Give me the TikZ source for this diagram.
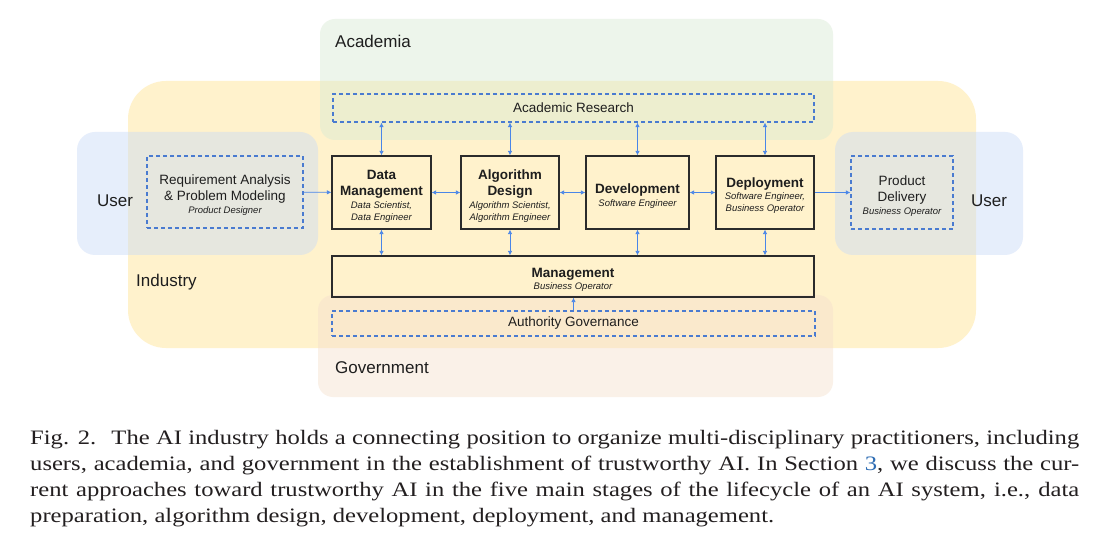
\documentclass[tikz,border=0pt]{standalone}
\usepackage{fontspec}
\setmainfont{Liberation Sans}
\newfontfamily\capfont[FakeStretch=1.2]{Liberation Serif}
\usepackage{xcolor}
\usetikzlibrary{arrows.meta,positioning}
\definecolor{indfill}{HTML}{FFF2CC}
\definecolor{acafill}{HTML}{D9EAD3}
\definecolor{userfill}{HTML}{C9DAF8}
\definecolor{govfill}{HTML}{F6E0CE}
\definecolor{boxline}{HTML}{2B2B2B}
\definecolor{dashblue}{HTML}{4A7BD0}
\definecolor{arrowblue}{HTML}{4A86E8}
\definecolor{ink}{HTML}{1E1E1E}
\definecolor{capink}{HTML}{231F20}
\definecolor{reflink}{HTML}{2E6DB4}
\newcommand\rolefont{\fontsize{9.5}{12}\selectfont\itshape\mdseries}
\newcommand\lift{\rule{0pt}{16pt}}
\tikzset{
  region/.style={fill opacity=0.45, draw=none},
  grouplab/.style={text=ink, font=\fontsize{17}{20}\selectfont, inner sep=0pt},
  stagebox/.style={draw=boxline, line width=1.2pt, align=center, text=ink, inner sep=0pt,
    minimum height=73pt, font=\fontsize{13.5}{16.5}\selectfont\bfseries},
  dashbox/.style={draw=dashblue, line width=1.1pt, dash pattern=on 4pt off 3pt, align=center,
    text=ink, inner sep=0pt, font=\fontsize{13.5}{16}\selectfont},
  link/.style={draw=arrowblue, line width=0.8pt, -{Latex[length=4.5pt,width=4.5pt]}},
  twoway/.style={link, {Latex[length=4.5pt,width=4.5pt]}-{Latex[length=4.5pt,width=4.5pt]}},
}
\begin{document}
\begin{tikzpicture}[x=1pt,y=-1pt]
\useasboundingbox[fill=white] (0,0) rectangle (1111,545);

\fill[indfill, rounded corners=38pt] (128,81) rectangle (976,348);
\fill[region, acafill, rounded corners=15pt] (320,19) rectangle (833,140);
\fill[region, userfill, rounded corners=18pt] (77,132) rectangle (318,255);
\fill[region, userfill, rounded corners=18pt] (835,132) rectangle (1023,255);
\fill[region, govfill, rounded corners=15pt] (318,295) rectangle (833,397);

\node[grouplab, anchor=west] (academia) at (335,41) {Academia};
\node[grouplab, anchor=west] (userl) at (97,201) {User};
\node[grouplab] (userr) at (989,201) {User};
\node[grouplab, anchor=west] (industry) at (136,282) {Industry};
\node[grouplab, anchor=west] (government) at (335,368) {Government};

\node[dashbox, minimum width=481pt, minimum height=28pt] (ar) at (573.5,108) {Academic Research};
\node[dashbox, minimum width=483pt, minimum height=25pt] (ag) at (573.5,323.5) {Authority Governance};
\node[dashbox, minimum width=156pt, minimum height=72pt] (req) at (225,192)
  {\lift Requirement Analysis\\\& Problem Modeling\\[-3pt]\rolefont Product Designer};
\node[dashbox, minimum width=102pt, minimum height=73pt] (pd) at (902,192.5)
  {\lift Product\\Delivery\\[-3pt]\rolefont Business Operator};

\node[stagebox, minimum width=99pt] (dm) at (381.5,192.5)
  {\lift Data\\Management\\[-4pt]\rolefont Data Scientist,\\[-4.5pt]\rolefont Data Engineer};
\node[stagebox, minimum width=98pt] (ad) at (510,192.5)
  {\lift Algorithm\\Design\\[-4pt]\rolefont Algorithm Scientist,\\[-4.5pt]\rolefont Algorithm Engineer};
\node[stagebox, minimum width=103pt] (dev) at (637.5,192.5) {\lift Development\\[-3.5pt]\rolefont Software Engineer};
\node[stagebox, minimum width=98pt] (dep) at (765,192.5)
  {\lift Deployment\\[-4pt]\rolefont Software Engineer,\\[-4.5pt]\rolefont Business Operator};
\node[stagebox, minimum width=482pt, minimum height=41pt] (mgmt) at (573,276.5)
  {\lift Management\\[-5pt]\rolefont Business Operator};

\draw[link] (req) -- (dm);
\draw[twoway] (dm) -- (ad);
\draw[twoway] (ad) -- (dev);
\draw[twoway] (dev) -- (dep);
\draw[link] (dep) -- (pd);
\foreach \s in {dm,ad,dev,dep}{
  \draw[twoway] (ar.south -| \s) -- (\s);
  \draw[twoway] (\s) -- (\s |- mgmt.north);
}
\draw[link] (ag) -- (ag |- mgmt.south);

\node[anchor=north west, inner sep=0pt, text width=1049pt, align=justify, text=capink,
  font=\capfont\fontsize{20.5}{26.3}\selectfont] (caption) at (30,429.6)
  {Fig. 2. \ The AI industry holds a connecting position to organize multi-disciplinary practitioners, including\linebreak
   users, academia, and government in the establishment of trustworthy AI. In Section {\color{reflink}3}, we discuss the cur-\linebreak
   rent approaches toward trustworthy AI in the five main stages of the lifecycle of an AI system, i.e., data\linebreak
   preparation, algorithm design, development, deployment, and management.};
\end{tikzpicture}
\end{document}
